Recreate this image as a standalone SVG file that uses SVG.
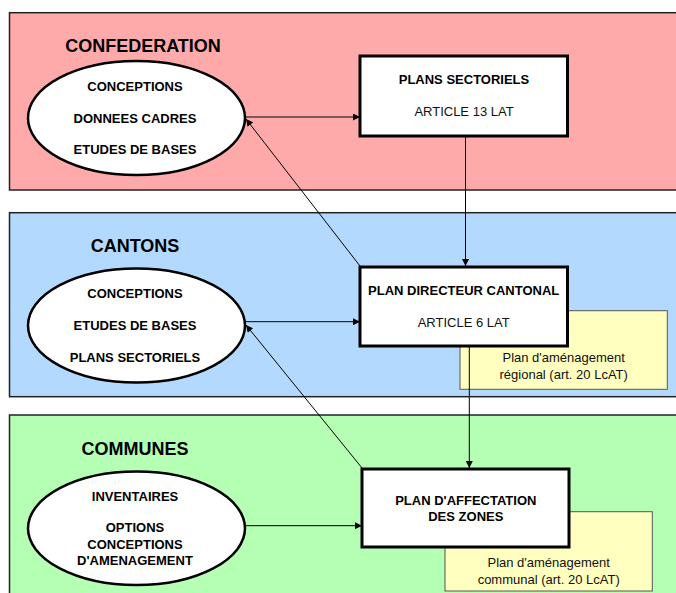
<svg xmlns="http://www.w3.org/2000/svg" width="676" height="593" viewBox="0 0 676 593">
<style>
.band{stroke:#222;stroke-width:1.5}
.ell{fill:#fff;stroke:#000;stroke-width:2.5}
.box{fill:#fff;stroke:#000;stroke-width:3}
.note{fill:#ffffc0;stroke:#555;stroke-width:1}
.title{font-family:"Liberation Sans",Arial,sans-serif;font-weight:bold;font-size:18px;fill:#000;text-anchor:middle}
.b{font-family:"Liberation Sans",Arial,sans-serif;font-weight:bold;font-size:13px;fill:#000;text-anchor:middle}
.r{font-family:"Liberation Sans",Arial,sans-serif;font-size:13px;fill:#111;text-anchor:middle}
.c{stroke:#000;stroke-width:1;fill:none;marker-end:url(#ah)}
</style>
<defs>
<marker id="ah" viewBox="0 0 10 10" refX="10" refY="5" markerWidth="9" markerHeight="7" markerUnits="userSpaceOnUse" orient="auto">
<path d="M0,0 L10,5 L0,10 z" fill="#000"/>
</marker>
</defs>
<rect width="676" height="593" fill="#fff"/>
<g id="band-confederation">
<rect class="band" x="9.5" y="12.7" width="700" height="177.3" fill="#ffaaaa"/>
<text class="title" x="143" y="52">CONFEDERATION</text>
</g>
<g id="band-cantons">
<rect class="band" x="9.5" y="212.7" width="700" height="184" fill="#b4d9ff"/>
<text class="title" x="135" y="252">CANTONS</text>
</g>
<g id="band-communes">
<rect class="band" x="9.5" y="415" width="700" height="200" fill="#b4ffb4"/>
<text class="title" x="135" y="455">COMMUNES</text>
</g>
<g id="note-regional">
<rect class="note" x="460" y="310.7" width="207.3" height="78.6"/>
<text class="r" x="563.7" y="362">Plan d'aménagement</text>
<text class="r" x="563.7" y="378.5">régional (art. 20 LcAT)</text>
</g>
<g id="note-communal">
<rect class="note" x="445" y="511.7" width="207.3" height="79.3"/>
<text class="r" x="548.7" y="567">Plan d'aménagement</text>
<text class="r" x="548.7" y="583.5">communal (art. 20 LcAT)</text>
</g>
<g id="connectors">
<line class="c" x1="245" y1="117" x2="360" y2="117"/>
<line class="c" x1="465.5" y1="136" x2="465.5" y2="266"/>
<line class="c" x1="360" y1="266" x2="246" y2="119"/>
<line class="c" x1="245" y1="321.7" x2="360" y2="321.7"/>
<line class="c" x1="469.3" y1="346" x2="469.3" y2="468"/>
<line class="c" x1="362" y1="468" x2="246" y2="325"/>
<line class="c" x1="245" y1="525.7" x2="362" y2="525.7"/>
</g>
<g id="ellipse-confederation">
<ellipse class="ell" cx="136.5" cy="118" rx="108.5" ry="57"/>
<text class="b" x="135" y="90.5">CONCEPTIONS</text>
<text class="b" x="135" y="122.5">DONNEES CADRES</text>
<text class="b" x="135" y="153.5">ETUDES DE BASES</text>
</g>
<g id="box-plans-sectoriels">
<rect class="box" x="360" y="56" width="207.5" height="80"/>
<text class="b" x="464" y="84">PLANS SECTORIELS</text>
<text class="r" x="464" y="115.5">ARTICLE 13 LAT</text>
</g>
<g id="ellipse-cantons">
<ellipse class="ell" cx="136.5" cy="325.5" rx="108.5" ry="57"/>
<text class="b" x="135" y="298">CONCEPTIONS</text>
<text class="b" x="135" y="330">ETUDES DE BASES</text>
<text class="b" x="135" y="361.5">PLANS SECTORIELS</text>
</g>
<g id="box-plan-directeur">
<rect class="box" x="360" y="267" width="207.5" height="79"/>
<text class="b" x="463.7" y="295">PLAN DIRECTEUR CANTONAL</text>
<text class="r" x="463.7" y="327">ARTICLE 6 LAT</text>
</g>
<g id="ellipse-communes">
<ellipse class="ell" cx="136.5" cy="528.3" rx="108.5" ry="56.7"/>
<text class="b" x="135" y="501">INVENTAIRES</text>
<text class="b" x="135" y="532">OPTIONS</text>
<text class="b" x="135" y="548.5">CONCEPTIONS</text>
<text class="b" x="135" y="565">D'AMENAGEMENT</text>
</g>
<g id="box-plan-affectation">
<rect class="box" x="362" y="469" width="207" height="78"/>
<text class="b" x="465.8" y="504.5">PLAN D'AFFECTATION</text>
<text class="b" x="465.8" y="520.5">DES ZONES</text>
</g>
</svg>
